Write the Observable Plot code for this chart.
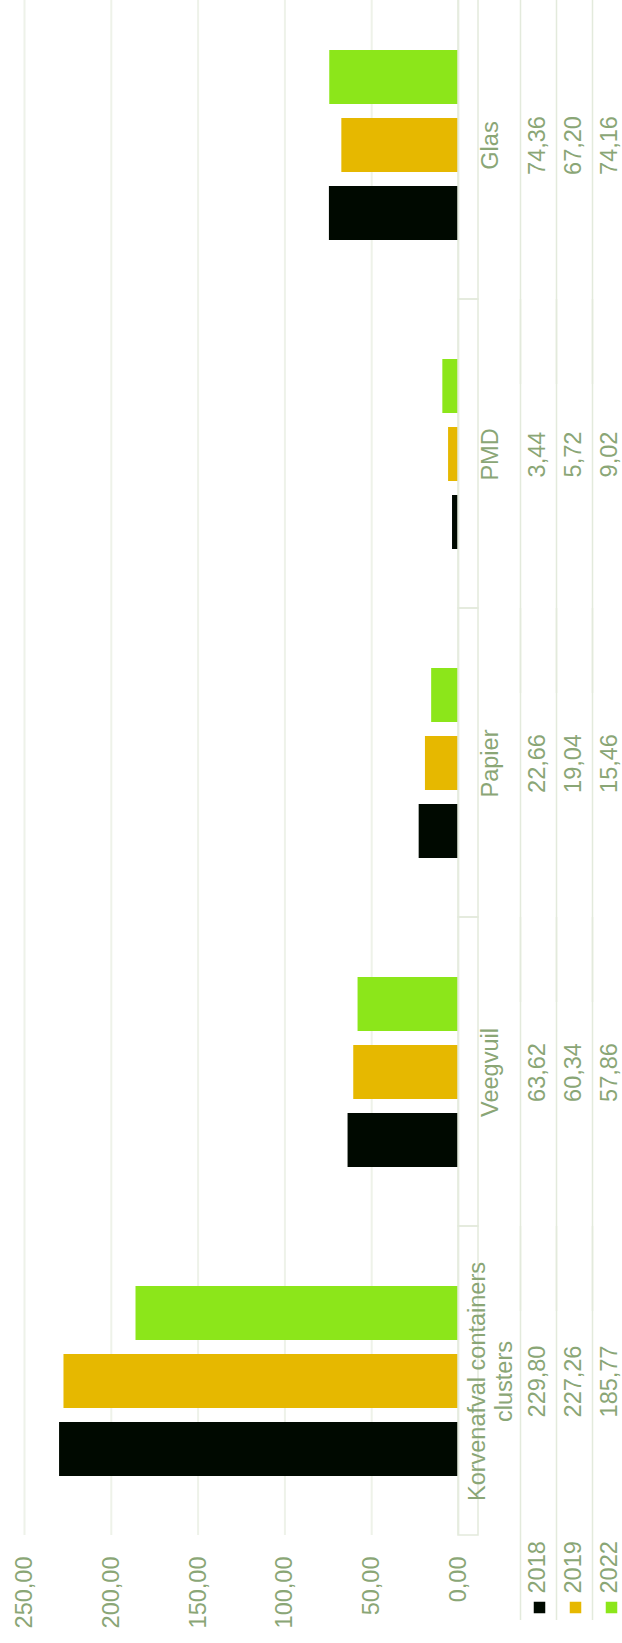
<!DOCTYPE html>
<html><head><meta charset="utf-8">
<script src="https://cdn.jsdelivr.net/npm/d3@7"></script>
<script src="https://cdn.jsdelivr.net/npm/@observablehq/plot@0.6"></script>
<style>body{margin:0;background:#fff} svg{display:block}</style>
</head><body><div id="chart"></div>
<script>
const categories = ["Glas", "PMD", "Papier", "Veegvuil", "Korvenafval containers clusters"];
const categoryLabels = ["Glas", "PMD", "Papier", "Veegvuil", "Korvenafval containers\nclusters"];
const years = ["2018", "2019", "2022"];
const values2018 = [74.36, 3.44, 22.66, 63.62, 229.80];
const values2019 = [67.20, 5.72, 19.04, 60.34, 227.26];
const values2022 = [74.16, 9.02, 15.46, 57.86, 185.77];
const xTicks = [0, 50, 100, 150, 200, 250];
const yearColors = ["#000900", "#e6b800", "#8ce61a"];

const series = [values2018, values2019, values2022];
const data = [];
categories.forEach((c, i) => years.forEach((y, j) => data.push({category: c, year: y, value: series[j][i]})));
const fmt = v => v.toFixed(2).replace(".", ",");

const W = 622, H = 1643, mL = 24, mR = 164, mT = -11, mB = 108;
const plotW = W - mL - mR;
const facetH = (H - mT - mB) / categories.length;
const textColor = "#8aa676";
const lineColor = "#e3eadc";
const gridColor = "#eef2e9";
const fontSize = 23.5;
const labelCol = 62, valueCol = 36;
const lastCat = categories[categories.length - 1];
const midYear = "2019";

const marks = [
  Plot.gridX(xTicks, {stroke: gridColor, strokeOpacity: 1, strokeWidth: 2}),
  Plot.barX(data, {fy: "category", y: "year", x: "value", fill: "year"}),
  Plot.rect(categories, {fy: d => d, stroke: lineColor, strokeWidth: 1.5, fill: "none", insetLeft: plotW, insetRight: -20}),
  Plot.text(categories, {fy: d => d, y: () => midYear, text: (d, i) => categoryLabels[i], frameAnchor: "right", textAnchor: "middle", lineAnchor: "middle", dx: labelCol / 2, rotate: -90, lineHeight: 1.17, fill: textColor, fontSize}),
  Plot.rect([lastCat], {fy: d => d, stroke: lineColor, strokeWidth: 1.5, fill: "none", insetLeft: plotW + labelCol, insetRight: -20, insetTop: facetH, insetBottom: -85}),
  Plot.text(xTicks, {fy: () => lastCat, x: d => d, text: fmt, frameAnchor: "bottom", dy: 21, rotate: -90, textAnchor: "end", lineAnchor: "middle", fill: textColor, fontSize})
];
years.forEach((yr, j) => {
  const off = labelCol + valueCol * j + valueCol / 2;
  marks.push(Plot.ruleX([0], {dx: labelCol + valueCol * j, stroke: lineColor, strokeWidth: 1.5, insetBottom: -85}));
  marks.push(Plot.text(data.filter(d => d.year === yr), {fy: "category", y: () => midYear, text: d => fmt(d.value), frameAnchor: "right", textAnchor: "middle", lineAnchor: "middle", dx: off - 1, rotate: -90, fill: textColor, fontSize}));
  marks.push(Plot.text([yr], {fy: () => lastCat, text: d => d, frameAnchor: "bottom-right", dx: off - 1, dy: 58, rotate: -90, textAnchor: "start", lineAnchor: "middle", fill: textColor, fontSize}));
  marks.push(Plot.dot([yr], {fy: () => lastCat, frameAnchor: "bottom-right", dx: off + 1, dy: 72, symbol: "square", r: 6.5, fill: d => d}));
});

const chart = Plot.plot({
  width: W, height: H,
  marginLeft: mL, marginRight: mR, marginTop: mT, marginBottom: mB,
  style: {fontFamily: "'Liberation Sans', Arial, sans-serif", fontSize: "23px", background: "#fff"},
  x: {domain: [0, 250], reverse: true, axis: null, label: null},
  y: {domain: ["2022", "2019", "2018"], paddingInner: 0.21, paddingOuter: 0.86, axis: null},
  fy: {domain: categories, padding: 0, axis: null},
  color: {type: "ordinal", domain: years, range: yearColors},
  marks
});
document.getElementById("chart").append(chart);
</script>
</body></html>
